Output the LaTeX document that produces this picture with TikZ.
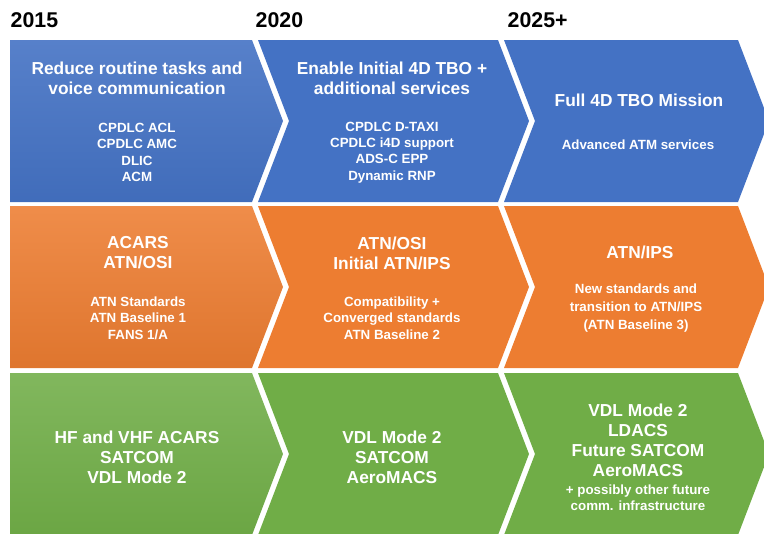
\documentclass[tikz,border=0pt]{standalone}
\usepackage{fontspec}
\setmainfont{Liberation Sans}
\usepackage{tikz}

\definecolor{chevblue}{HTML}{4472C4}
\definecolor{chevorange}{HTML}{ED7D31}
\definecolor{chevgreen}{HTML}{70AD47}

% one chevron: options, left x, top y, flat width, notch (1) or straight (0)
\newcommand{\drawchev}[5]{%
  \path[#1] (#2,#3) -- ++(#4,0) -- ++(31,81) -- ++(-31,81) -- ++(-#4,0)
            -- ++(31*#5,-81) -- cycle;}

\begin{document}
\begin{tikzpicture}[x=0.75pt,y=-0.75pt]

  \tikzstyle{year}=[font=\bfseries\fontsize{16}{19}\selectfont,anchor=west]
  \tikzstyle{head}=[font=\bfseries\fontsize{13}{15}\selectfont,text=white,align=center]
  \tikzstyle{sub}=[font=\bfseries\fontsize{10}{12.3}\selectfont,text=white,align=center]

  \useasboundingbox (0,0) rectangle (764,533);
  \clip (0,0) rectangle (764,533);

  % goals
  \drawchev{top color=chevblue!90!white,bottom color=chevblue!95!black}{10}{40}{242}{0}
  \drawchev{fill=chevblue}{258}{40}{240}{1}
  \drawchev{fill=chevblue}{504}{40}{234}{1}
  % protocols
  \drawchev{top color=chevorange!88!white,bottom color=chevorange!94!black}{10}{206}{242}{0}
  \drawchev{fill=chevorange}{258}{206}{240}{1}
  \drawchev{fill=chevorange}{504}{206}{234}{1}
  % links
  \drawchev{top color=chevgreen!88!white,bottom color=chevgreen!96!black}{10}{373}{242}{0}
  \drawchev{fill=chevgreen}{258}{373}{240}{1}
  \drawchev{fill=chevgreen}{504}{373}{234}{1}

  \node[year] (y2015) at (6,20)   {2015};
  \node[year] (y2020) at (251,20) {2020};
  \node[year] (y2025) at (503,20) {2025+};

  \node[head] (goalA) at (137,78)    {Reduce routine tasks and\\voice communication};
  \node[sub]  (svcA)  at (137,152.5) {CPDLC ACL\\CPDLC AMC\\DLIC\\ACM};
  \node[head] (goalB) at (392,78)    {Enable Initial 4D TBO +\\additional services};
  \node[sub]  (svcB)  at (392,152.5) {CPDLC D-TAXI\\CPDLC i4D support\\ADS-C EPP\\Dynamic RNP};
  \node[head] (goalC) at (639,100)   {Full 4D TBO Mission};
  \node[sub]  (svcC)  at (638,145)   {Advanced ATM services};

  \node[head] (protA) at (138,253) {ACARS\\ATN/OSI};
  \node[sub]  (stdA)  at (138,318) {ATN Standards\\ATN Baseline 1\\FANS 1/A};
  \node[head] (protB) at (392,253) {ATN/OSI\\Initial ATN/IPS};
  \node[sub]  (stdB)  at (392,318) {Compatibility +\\Converged standards\\ATN Baseline 2};
  \node[head] (protC) at (640,252) {ATN/IPS};
  \node[sub,font=\bfseries\fontsize{10}{13.5}\selectfont]
              (stdC)  at (636,308) {New standards and\\transition to ATN/IPS\\(ATN Baseline 3)};

  \node[head] (linkA) at (137,457)   {HF and VHF ACARS\\SATCOM\\VDL Mode 2};
  \node[head] (linkB) at (392,457)   {VDL Mode 2\\SATCOM\\AeroMACS};
  \node[head] (linkC) at (638,440.5) {VDL Mode 2\\LDACS\\Future SATCOM\\AeroMACS};
  \node[sub]  (moreC) at (638,498)   {+ possibly other future\\comm. infrastructure};
\end{tikzpicture}
\end{document}
